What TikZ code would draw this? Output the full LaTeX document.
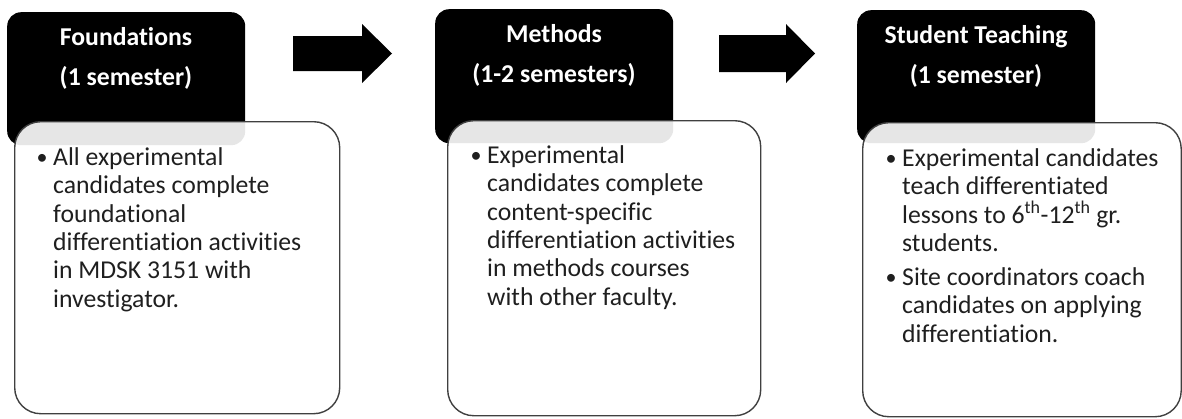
\documentclass[tikz,border=0pt]{standalone}
\usepackage{fontspec}
\setmainfont[Ligatures=NoCommon]{Carlito}
\begin{document}
\begin{tikzpicture}[x=1pt,y=-1pt,
  hdr/.style={fill=black, draw=none, rounded corners=14pt, anchor=north west, inner sep=0pt},
  bodybox/.style={draw=black!75, line width=1.4pt, fill=white, fill opacity=0.9, rounded corners=26pt, anchor=north west, inner sep=0pt},
  htext/.style={text=white, font=\fontsize{25.7}{40}\selectfont\bfseries, align=center, inner sep=0pt, anchor=north},
  btext/.style={text=black!88, font=\fontsize{25.7}{28.4}\selectfont, align=left, anchor=north west, inner sep=0pt},
  bul/.style={text=black!88, font=\fontsize{22}{28.4}\selectfont, anchor=base, inner sep=0pt},
  blockarrow/.style={fill=black, draw=none}
]
\useasboundingbox (0,0) rectangle (1182,418);
% header boxes
\node[hdr, minimum width=238pt, minimum height=133pt] (h1) at (7,12) {};
\node[hdr, minimum width=238pt, minimum height=134pt] (h2) at (435,9) {};
\node[hdr, minimum width=238pt, minimum height=133pt] (h3) at (857,10) {};
% header texts (first baseline = y + 22)
\node[htext] (ht1) at (126,23) {\rule{0pt}{22pt}Foundations\\(1 semester)};
\node[htext] (ht2) at (554,20) {\rule{0pt}{22pt}Methods\\(1-2 semesters)};
\node[htext] (ht3) at (976,21) {\rule{0pt}{22pt}Student Teaching\\(1 semester)};
% body boxes
\node[bodybox, minimum width=325pt, minimum height=292pt] (b1) at (14,121) {};
\node[bodybox, minimum width=313pt, minimum height=295pt] (b2) at (447,120) {};
\node[bodybox, minimum width=318.5pt, minimum height=294pt] (b3) at (862,122) {};
% body texts (first baseline = y + 20)
\node[bul] (u1) at (42,164) {•};
\node[btext] (bt1) at (53,145) {\rule{0pt}{20pt}All experimental\\candidates complete\\foundational\\differentiation activities\\in MDSK 3151 with\\investigator.};
\node[bul] (u2) at (476,162) {•};
\node[btext] (bt2) at (487,143) {\rule{0pt}{20pt}Experimental\\candidates complete\\content-specific\\differentiation activities\\in methods courses\\with other faculty.};
\node[bul] (u3) at (891,165) {•};
\node[btext] (bt3) at (902,146) {\rule{0pt}{20pt}Experimental candidates\\teach differentiated\\lessons to 6\textsuperscript{th}-12\textsuperscript{th} gr.\\students.};
\node[bul] (u4) at (891,284) {•};
\node[btext] (bt4) at (902,265) {\rule{0pt}{20pt}Site coordinators coach\\candidates on applying\\differentiation.};
% block arrows
\coordinate (a1) at (293,53.5);
\coordinate (a2) at (719,53.5);
\fill[blockarrow] (a1) ++(0,-17.5) -- ++(69,0) -- ++(0,-12) -- ++(30,29.5) -- ++(-30,29.5) -- ++(0,-12) -- ++(-69,0) -- cycle;
\fill[blockarrow] (a2) ++(0,-18.5) -- ++(67,0) -- ++(0,-11) -- ++(29,29.5) -- ++(-29,29.5) -- ++(0,-11) -- ++(-67,0) -- cycle;
\end{tikzpicture}
\end{document}
